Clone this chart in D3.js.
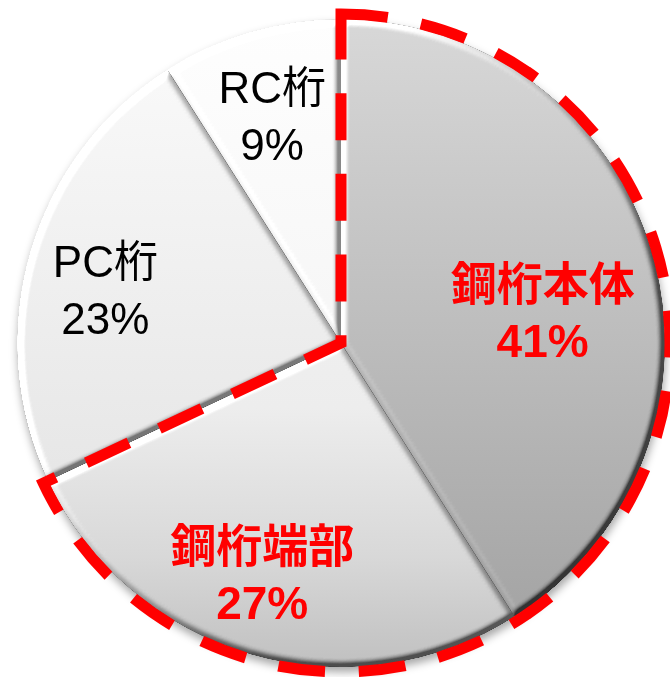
<!DOCTYPE html>
<html>
<head>
<meta charset="utf-8">
<script src="https://cdn.jsdelivr.net/npm/d3@7/dist/d3.min.js"></script>
<style>
  html, body { margin: 0; padding: 0; background: #ffffff; }
  svg { display: block; }
</style>
</head>
<body>
<script>
// Share of damage by member type
const categories = ["鋼桁本体", "鋼桁端部", "PC桁", "RC桁"];
const shares = [41, 27, 23, 9];
const percentLabels = ["41%", "27%", "23%", "9%"];
const highlighted = [true, true, false, false];

// ---- layout & style ----
const W = 670, H = 677;
const cx = 341, cy = 343, R = 324;
const outlineR = 329;
const labelR = 236;
// hand-placed label nudges relative to the slice mid-angle point
const labelNudge = [[-25, 23], [-13, -8], [-9, 0], [-3, -13]];
const lineGap = 57;
const sliceStops = [
  [[0, "#d8d8d8"], [1, "#a0a0a0"]],
  [[0, "#f8f8f8"], [0.6, "#ededed"], [0.83, "#d8d8d8"], [1, "#c0c0c0"]],
  [[0, "#fbfbfb"], [1, "#dedede"]],
  [[0, "#fefefe"], [1, "#eeeeee"]]
];

const svg = d3.select("body").append("svg")
  .attr("width", W).attr("height", H);

const defs = svg.append("defs");

// vertical gradients spanning the whole pie
sliceStops.forEach((stops, i) => {
  const lg = defs.append("linearGradient")
    .attr("id", "grad" + i)
    .attr("gradientUnits", "userSpaceOnUse")
    .attr("x1", 0).attr("y1", -R).attr("x2", 0).attr("y2", R);
  stops.forEach(([o, c]) => lg.append("stop").attr("offset", o).attr("stop-color", c));
});

// bevel: diffuse lighting on a blurred alpha, added around mid-grey
const bevel = defs.append("filter")
  .attr("id", "bevel")
  .attr("x", "-5%").attr("y", "-5%").attr("width", "110%").attr("height", "110%")
  .attr("color-interpolation-filters", "sRGB");
bevel.append("feGaussianBlur").attr("in", "SourceAlpha").attr("stdDeviation", 3).attr("result", "blur");
const diff = bevel.append("feDiffuseLighting")
  .attr("in", "blur").attr("surfaceScale", 5).attr("diffuseConstant", 1)
  .attr("lighting-color", "#ffffff").attr("result", "light");
diff.append("feDistantLight").attr("azimuth", 225).attr("elevation", 30);
bevel.append("feComposite").attr("in", "light").attr("in2", "SourceAlpha")
  .attr("operator", "in").attr("result", "lightIn");
bevel.append("feComposite").attr("in", "SourceGraphic").attr("in2", "lightIn")
  .attr("operator", "arithmetic")
  .attr("k1", 0).attr("k2", 1).attr("k3", 0.9).attr("k4", -0.45)
  .attr("result", "shaded");
bevel.append("feComposite").attr("in", "shaded").attr("in2", "SourceAlpha").attr("operator", "in");

// soft shadow under the pie
const shadow = defs.append("filter")
  .attr("id", "shadow")
  .attr("x", "-10%").attr("y", "-10%").attr("width", "120%").attr("height", "120%");
shadow.append("feGaussianBlur").attr("in", "SourceAlpha").attr("stdDeviation", 4).attr("result", "sb");
shadow.append("feOffset").attr("in", "sb").attr("dx", 1).attr("dy", 5).attr("result", "so");
shadow.append("feFlood").attr("flood-color", "#000").attr("flood-opacity", 0.35).attr("result", "sf");
shadow.append("feComposite").attr("in", "sf").attr("in2", "so").attr("operator", "in").attr("result", "sc");
const merge = shadow.append("feMerge");
merge.append("feMergeNode").attr("in", "sc");
merge.append("feMergeNode").attr("in", "SourceGraphic");

const data = categories.map((c, i) => ({ name: c, value: shares[i], pct: percentLabels[i], hi: highlighted[i], i }));

const pie = d3.pie().sort(null).value(d => d.value);
const arcs = pie(data);
const arc = d3.arc().innerRadius(0).outerRadius(R);
const labelArc = d3.arc().innerRadius(labelR).outerRadius(labelR);

const g = svg.append("g").attr("transform", `translate(${cx},${cy})`);

const pieG = g.append("g").attr("filter", "url(#shadow)");
pieG.selectAll("path.slice")
  .data(arcs)
  .join("path")
  .attr("class", "slice")
  .attr("d", arc)
  .attr("fill", d => `url(#grad${d.data.i})`)
  .attr("filter", "url(#bevel)");

// dashed outline around the highlighted (steel girder) slices
const hiArcs = arcs.filter(a => a.data.hi);
const outlineArc = d3.arc().innerRadius(0).outerRadius(outlineR);
const outline = g.append("path")
  .attr("d", outlineArc({
    startAngle: d3.min(hiArcs, a => a.startAngle),
    endAngle: d3.max(hiArcs, a => a.endAngle)
  }))
  .attr("fill", "none")
  .attr("stroke", "#ff0000")
  .attr("stroke-width", 11)
  .attr("stroke-linejoin", "miter");

// fit the dash period so the pattern wraps cleanly at the top corner
const dashLen = 47, lastRun = 46;
const L = outline.node().getTotalLength();
const n = Math.round((L - lastRun) / 82);
const period = (L - lastRun) / n;
outline.attr("stroke-dasharray", `${dashLen} ${period - dashLen}`);

// labels
const labels = g.selectAll("text.lbl")
  .data(arcs)
  .join("text")
  .attr("class", "lbl")
  .attr("text-anchor", "middle")
  .attr("font-family", "'Liberation Sans', Arial, 'Noto Sans CJK JP', sans-serif")
  .attr("font-size", d => d.data.hi ? 46 : 44)
  .attr("font-weight", d => d.data.hi ? "bold" : "normal")
  .attr("fill", d => d.data.hi ? "#ff0000" : "#000000")
  .attr("transform", d => {
    const [x, y] = labelArc.centroid(d);
    const [nx, ny] = labelNudge[d.data.i];
    return `translate(${x + nx},${y + ny})`;
  });

labels.append("tspan").attr("x", 0).attr("y", 0).text(d => d.data.name);
labels.append("tspan").attr("x", 0).attr("y", lineGap).text(d => d.data.pct);
</script>
</body>
</html>
